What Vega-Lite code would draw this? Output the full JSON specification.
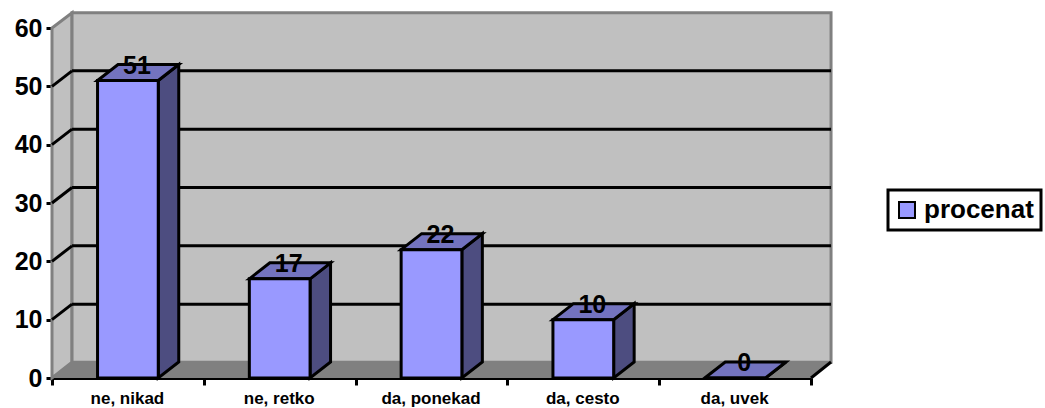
{
"$schema":"https://vega.github.io/schema/vega-lite/v6.json",
"width":759,"height":350,
"autosize":"none",
"padding":{"left":52,"top":28,"right":234,"bottom":30},
"background":"white",
"config":{"view":{"stroke":null},"font":"Liberation Sans","legend":{"strokeWidth":3}},
"datasets":{
"survey":[
{"answer":"ne, nikad","procenat":51,"series":"procenat"},
{"answer":"ne, retko","procenat":17,"series":"procenat"},
{"answer":"da, ponekad","procenat":22,"series":"procenat"},
{"answer":"da, cesto","procenat":10,"series":"procenat"},
{"answer":"da, uvek","procenat":0,"series":"procenat"}
],
"ticks":[{"v":10},{"v":20},{"v":30},{"v":40},{"v":50}],
"edge":[{"t":0},{"t":1}],
"quad":[{"t":0},{"t":1},{"t":2},{"t":3}]
},
"layer":[
{"data":{"name":"edge"},
 "transform":[{"calculate":"0.132*datum.t","as":"xq"},{"calculate":"60+2.6*datum.t","as":"yq"},{"calculate":"2.7*datum.t","as":"yb"}],
 "mark":{"type":"area","fill":"#c0c0c0","stroke":"#808080","strokeWidth":3},
 "encoding":{
  "x":{"field":"xq","type":"quantitative","scale":{"domain":[0,5],"nice":false},"axis":null},
  "y":{"field":"yq","type":"quantitative","scale":{"domain":[0,60],"nice":false},
   "axis":{"values":[0,10,20,30,40,50,60],"title":null,"grid":false,"domainColor":"black","domainWidth":3,"tickColor":"black","tickWidth":3,"tickSize":6,"labelFont":"Liberation Sans","labelFontSize":25,"labelFontWeight":"bold","labelColor":"black","labelPadding":4}},
  "y2":{"field":"yb"}}},
{"data":{"values":[{"wall":"back"}]},
 "mark":{"type":"rect","fill":"#c0c0c0","stroke":"#808080","strokeWidth":3},
 "encoding":{
  "x":{"datum":0.132,"type":"quantitative","scale":{"domain":[0,5],"nice":false},"axis":null},
  "x2":{"datum":5.132},
  "y":{"datum":2.7,"type":"quantitative"},
  "y2":{"datum":62.6}}},
{"data":{"name":"quad"},
 "transform":[
  {"calculate":"[0,0.132,5,5.132][datum.t]","as":"xq"},
  {"calculate":"2.7*min(1,datum.t)","as":"yq"},
  {"calculate":"datum.t==3?2.7:0","as":"yb"}],
 "mark":{"type":"area","fill":"#808080"},
 "encoding":{
  "x":{"field":"xq","type":"quantitative","scale":{"domain":[0,5],"nice":false},"axis":null},
  "y":{"field":"yq","type":"quantitative"},
  "y2":{"field":"yb"}}},
{"data":{"name":"ticks"},
 "mark":{"type":"rule","color":"black","strokeWidth":3,"yOffset":-15.5},
 "encoding":{
  "x":{"datum":0.132,"type":"quantitative","scale":{"domain":[0,5],"nice":false},"axis":null},
  "x2":{"datum":5.132},
  "y":{"field":"v","type":"quantitative"}}},
{"data":{"name":"ticks"},
 "transform":[{"calculate":"datum.v+2.66","as":"vb"}],
 "mark":{"type":"rule","color":"black","strokeWidth":3},
 "encoding":{
  "x":{"datum":0,"type":"quantitative","scale":{"domain":[0,5],"nice":false},"axis":null},
  "x2":{"datum":0.132},
  "y":{"field":"v","type":"quantitative"},
  "y2":{"field":"vb"}}},
{"data":{"values":[{"edge":"right"}]},
 "mark":{"type":"rule","color":"black","strokeWidth":3},
 "encoding":{
  "x":{"datum":5,"type":"quantitative","scale":{"domain":[0,5],"nice":false},"axis":null},
  "x2":{"datum":5.132},
  "y":{"datum":0,"type":"quantitative"},
  "y2":{"datum":2.74}}},
{"data":{"name":"survey"},
 "transform":[
  {"calculate":"indexof(['ne, nikad','ne, retko','da, ponekad','da, cesto','da, uvek'],datum.answer)","as":"pos"},
  {"calculate":"[0,1]","as":"t"},{"flatten":["t"]},
  {"calculate":"datum.pos+0.7+0.135*datum.t","as":"xq"},
  {"calculate":"datum.procenat+2.74*datum.t","as":"yq"},
  {"calculate":"2.74*datum.t","as":"yb"}],
 "mark":{"type":"area","fill":"#4d4d80","stroke":"black","strokeWidth":3,"strokeJoin":"miter"},
 "encoding":{
  "x":{"field":"xq","type":"quantitative","scale":{"domain":[0,5],"nice":false},"axis":null},
  "y":{"field":"yq","type":"quantitative"},
  "y2":{"field":"yb"},
  "detail":{"field":"answer"}}},
{"data":{"name":"survey"},
 "transform":[
  {"calculate":"indexof(['ne, nikad','ne, retko','da, ponekad','da, cesto','da, uvek'],datum.answer)","as":"pos"},
  {"calculate":"[0,1,2,3]","as":"t"},{"flatten":["t"]},
  {"calculate":"datum.pos+[0.3,0.435,0.7,0.835][datum.t]","as":"xq"},
  {"calculate":"datum.procenat+2.74*min(1,datum.t)","as":"yq"},
  {"calculate":"datum.procenat+(datum.t==3?2.74:0)","as":"yb"}],
 "mark":{"type":"area","fill":"#7373bf","stroke":"black","strokeWidth":3,"strokeJoin":"miter"},
 "encoding":{
  "x":{"field":"xq","type":"quantitative","scale":{"domain":[0,5],"nice":false},"axis":null},
  "y":{"field":"yq","type":"quantitative"},
  "y2":{"field":"yb"},
  "detail":{"field":"answer"}}},
{"data":{"name":"survey"},
 "mark":{"type":"bar","stroke":"black","strokeWidth":3,"width":{"band":0.4}},
 "encoding":{
  "x":{"field":"answer","type":"nominal","sort":null,
   "scale":{"type":"band","paddingInner":0,"paddingOuter":0},
   "axis":{"title":null,"labelAngle":0,"tickBand":"extent","domainColor":"black","domainWidth":3,"tickColor":"black","tickWidth":3,"tickSize":7,"labelFont":"Liberation Sans","labelFontSize":17,"labelFontWeight":"bold","labelColor":"black","labelPadding":5,"labelOffset":-1}},
  "y":{"field":"procenat","type":"quantitative"},
  "fill":{"field":"series","type":"nominal","scale":{"range":["#9999ff"]},
   "legend":{"title":null,"orient":"none","legendX":836,"legendY":162,"strokeColor":"black","padding":7,"symbolType":"square","symbolSize":256,"symbolStrokeColor":"black","symbolStrokeWidth":2,"symbolOffset":-1,"labelFont":"Liberation Sans","labelFontSize":26,"labelFontWeight":"bold","labelColor":"black","labelOffset":4}}}},
{"data":{"name":"survey"},
 "mark":{"type":"text","font":"Liberation Sans","fontSize":25,"fontWeight":"bold","color":"black","xOffset":9,"yOffset":-15,"baseline":"middle"},
 "encoding":{
  "x":{"field":"answer","type":"nominal","sort":null,
   "scale":{"type":"band","paddingInner":0,"paddingOuter":0},"axis":null},
  "y":{"field":"procenat","type":"quantitative"},
  "text":{"field":"procenat","type":"quantitative"}}}
],
"resolve":{"scale":{"x":"independent"}}
}
